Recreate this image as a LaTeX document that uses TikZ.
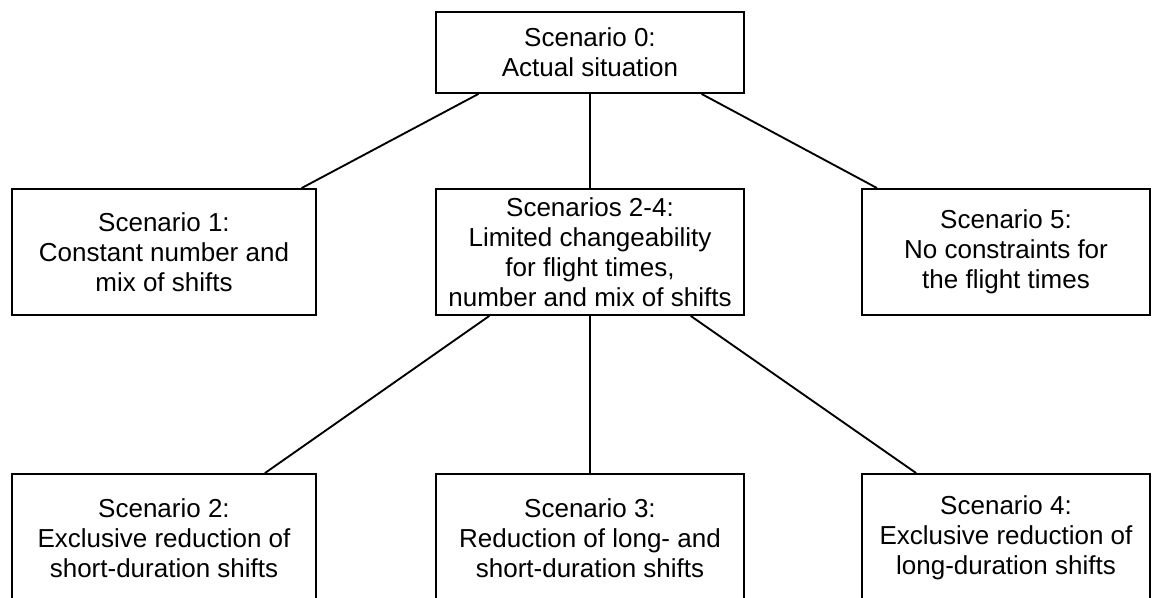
\documentclass[tikz,border=0pt]{standalone}
\usepackage{fontspec}
\setmainfont{Liberation Sans}
\usetikzlibrary{calc}

\begin{document}
\begin{tikzpicture}[x=0.75pt,y=0.75pt,yscale=-1,xscale=1,
  scenbox/.style={draw,line width=1.4pt,align=center,inner sep=0pt,
    font=\fontsize{19.5}{22.5}\selectfont},
  link/.style={line width=1.4pt}]
\useasboundingbox (0,0) rectangle (1160,598);
% top
\node [scenbox,minimum width=231pt,minimum height=60.75pt] (s0) at (590,52.5) {Scenario 0:\\Actual situation};
% middle row
\node [scenbox,minimum width=228pt,minimum height=94.5pt] (s1) at (164,252) {Scenario 1:\\Constant number and\\mix of shifts};
\node [scenbox,minimum width=231pt,minimum height=94.5pt] (s24) at (590,252) {Scenarios 2-4:\\Limited changeability\\for flight times,\\number and mix of shifts};
\node [scenbox,minimum width=216pt,minimum height=94.5pt] (s5) at (1006,252) {Scenario 5:\\No constraints for\\the flight times};
% bottom row
\node [scenbox,minimum width=228pt,minimum height=96pt] (s2) at (164,538) {Scenario 2:\\Exclusive reduction of\\short-duration shifts};
\node [scenbox,minimum width=231pt,minimum height=96pt] (s3) at (590,538) {Scenario 3:\\Reduction of long- and\\short-duration shifts};
\node [scenbox,minimum width=216pt,minimum height=96pt] (s4) at (1006,538) {Scenario 4:\\Exclusive reduction of\\long-duration shifts};
% connectors
\draw [link] ($(s0.south west)!0.14!(s0.south east)$) -- ($(s1.north west)!0.95!(s1.north east)$);
\draw [link] (s0.south) -- (s24.north);
\draw [link] ($(s0.south west)!0.86!(s0.south east)$) -- ($(s5.north west)!0.055!(s5.north east)$);
\draw [link] ($(s24.south west)!0.175!(s24.south east)$) -- ($(s2.north west)!0.83!(s2.north east)$);
\draw [link] (s24.south) -- (s3.north);
\draw [link] ($(s24.south west)!0.825!(s24.south east)$) -- ($(s4.north west)!0.19!(s4.north east)$);
\end{tikzpicture}
\end{document}
